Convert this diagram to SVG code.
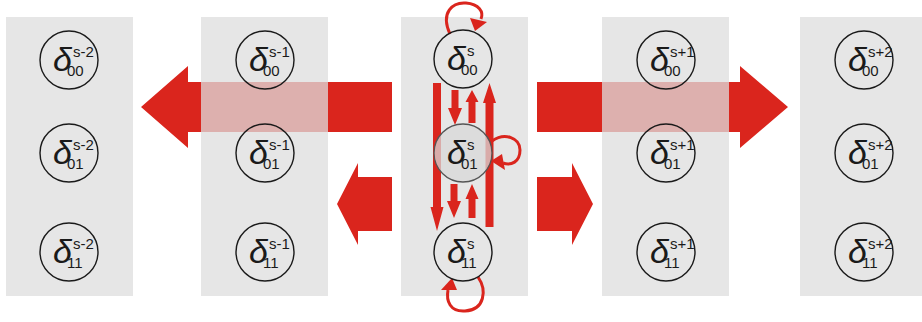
<svg xmlns="http://www.w3.org/2000/svg" width="922" height="322" viewBox="0 0 922 322">
  <style>
    .panel{fill:#e6e6e6}
    .ring{fill:none;stroke:#1a1a1a;stroke-width:1.4}
    .ring-mid{fill:#d8d8d8;fill-opacity:0.75;stroke:#555;stroke-width:1.3}
    .d{font-family:"Liberation Sans",Arial,sans-serif;font-style:italic;font-size:34px;fill:#1a1a1a}
    .sup,.sub{font-family:"Liberation Sans",Arial,sans-serif;font-size:15px;fill:#1a1a1a}
    .red{fill:#da251d}
    .band{fill:#ddb0ae}
    .loop{fill:none;stroke:#da251d;stroke-width:3}
  </style>

  <!-- layer columns -->
  <g id="panels">
    <rect class="panel" x="6" y="17" width="127" height="279"/>
    <rect class="panel" x="201" y="17" width="127" height="279"/>
    <rect class="panel" x="401" y="17" width="127" height="279"/>
    <rect class="panel" x="602" y="17" width="127" height="279"/>
    <rect class="panel" x="800" y="17" width="127" height="279"/>
  </g>

  <g id="connectors">
    <!-- wide arrows between columns; the lighter band is where they pass under a column -->
    <polygon class="red" points="392,82 188,82 188,66 141,107 188,148 188,132 392,132"/>
    <rect class="band" x="201" y="82" width="127" height="50"/>
    <polygon class="red" points="537,82 740,82 740,66 788,107 740,148 740,132 537,132"/>
    <rect class="band" x="602" y="82" width="127" height="50"/>
    <polygon class="red" points="392,177 358,177 358,163 337,204 358,245 358,231 392,231"/>
    <polygon class="red" points="537,177 572,177 572,163 593,204 572,245 572,231 537,231"/>

    <!-- transitions inside the central column -->
    <polygon class="red" points="433,83 441,83 441,207 443.5,207 437,231 430.5,207 433,207"/>
    <polygon class="red" points="451.5,90 458.5,90 458.5,108 462,108 455,125 448,108 451.5,108"/>
    <polygon class="red" points="450.5,184 457.5,184 457.5,201 461,201 454,218 447,201 450.5,201"/>
    <polygon class="red" points="468.5,123 475.5,123 475.5,102 478.5,102 472,90 465.5,102 468.5,102"/>
    <polygon class="red" points="468.5,218 475.5,218 475.5,199 478.5,199 472,184 465.5,199 468.5,199"/>
    <polygon class="red" points="485.5,227 493.5,227 493.5,103 496,103 489.5,83 483,103 485.5,103"/>

    <!-- self loops -->
    <path class="loop" d="M450,34 C440,12 453,2 466,3 C479,4 484,12 481,19"/>
    <polygon class="red" points="470,18 487,22 475,31"/>
    <path class="loop" d="M492,141 C505,132 520,138 520,150 C520,162 511,166 503,163"/>
    <polygon class="red" points="491,161 502,154 505,170"/>
    <path class="loop" d="M478,277 C487,290 485,310 465,311 C450,312 446,301 448,290"/>
    <polygon class="red" points="441,290 457,290 452,278"/>
  </g>

  <!-- column s-2 -->
  <g id="n-sm2-00" transform="translate(69,60)"><circle class="ring" r="29"/><text class="d" x="-16" y="11">δ</text><text class="sup" x="4" y="-3">s-2</text><text class="sub" x="-2" y="16">00</text></g>
  <g id="n-sm2-01" transform="translate(69,153)"><circle class="ring" r="29"/><text class="d" x="-16" y="11">δ</text><text class="sup" x="4" y="-3">s-2</text><text class="sub" x="-2" y="16">01</text></g>
  <g id="n-sm2-11" transform="translate(69,252)"><circle class="ring" r="29"/><text class="d" x="-16" y="11">δ</text><text class="sup" x="4" y="-3">s-2</text><text class="sub" x="-2" y="16">11</text></g>

  <!-- column s-1 -->
  <g id="n-sm1-00" transform="translate(265,60)"><circle class="ring" r="29"/><text class="d" x="-16" y="11">δ</text><text class="sup" x="4" y="-3">s-1</text><text class="sub" x="-2" y="16">00</text></g>
  <g id="n-sm1-01" transform="translate(265,153)"><circle class="ring" r="29"/><text class="d" x="-16" y="11">δ</text><text class="sup" x="4" y="-3">s-1</text><text class="sub" x="-2" y="16">01</text></g>
  <g id="n-sm1-11" transform="translate(265,252)"><circle class="ring" r="29"/><text class="d" x="-16" y="11">δ</text><text class="sup" x="4" y="-3">s-1</text><text class="sub" x="-2" y="16">11</text></g>

  <!-- column s -->
  <g id="n-s-00" transform="translate(463,59)"><circle class="ring" r="29"/><text class="d" x="-16" y="11">δ</text><text class="sup" x="4" y="-3">s</text><text class="sub" x="-2" y="16">00</text></g>
  <g id="n-s-01" transform="translate(463,153)"><circle class="ring-mid" r="29"/><text class="d" x="-16" y="11">δ</text><text class="sup" x="4" y="-3">s</text><text class="sub" x="-2" y="16">01</text></g>
  <g id="n-s-11" transform="translate(463,252)"><circle class="ring" r="29"/><text class="d" x="-16" y="11">δ</text><text class="sup" x="4" y="-3">s</text><text class="sub" x="-2" y="16">11</text></g>

  <!-- column s+1 -->
  <g id="n-sp1-00" transform="translate(666,60)"><circle class="ring" r="29"/><text class="d" x="-16" y="11">δ</text><text class="sup" x="4" y="-3">s+1</text><text class="sub" x="-2" y="16">00</text></g>
  <g id="n-sp1-01" transform="translate(666,153)"><circle class="ring" r="29"/><text class="d" x="-16" y="11">δ</text><text class="sup" x="4" y="-3">s+1</text><text class="sub" x="-2" y="16">01</text></g>
  <g id="n-sp1-11" transform="translate(666,252)"><circle class="ring" r="29"/><text class="d" x="-16" y="11">δ</text><text class="sup" x="4" y="-3">s+1</text><text class="sub" x="-2" y="16">11</text></g>

  <!-- column s+2 -->
  <g id="n-sp2-00" transform="translate(864,60)"><circle class="ring" r="29"/><text class="d" x="-16" y="11">δ</text><text class="sup" x="4" y="-3">s+2</text><text class="sub" x="-2" y="16">00</text></g>
  <g id="n-sp2-01" transform="translate(864,153)"><circle class="ring" r="29"/><text class="d" x="-16" y="11">δ</text><text class="sup" x="4" y="-3">s+2</text><text class="sub" x="-2" y="16">01</text></g>
  <g id="n-sp2-11" transform="translate(864,252)"><circle class="ring" r="29"/><text class="d" x="-16" y="11">δ</text><text class="sup" x="4" y="-3">s+2</text><text class="sub" x="-2" y="16">11</text></g>
</svg>
